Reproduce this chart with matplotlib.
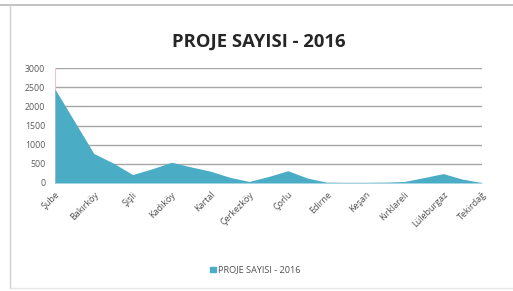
import matplotlib
matplotlib.use("Agg")
import matplotlib.pyplot as plt
from matplotlib.lines import Line2D
import numpy as np

title = "PROJE SAYISI - 2016"
series_name = "PROJE SAYISI - 2016"
tick_labels = ["Şube", "Bakırköy", "Şişli", "Kadıköy", "Kartal", "Çerkezköy",
               "Çorlu", "Edirne", "Keşan", "Kırklareli", "Lüleburgaz", "Tekirdağ"]
values = [2450, 1610, 770, 520, 220, 370, 540, 420, 310, 150, 40, 170,
          320, 130, 20, 15, 15, 20, 40, 140, 245, 100, 10]
yticks = [0, 500, 1000, 1500, 2000, 2500, 3000]

W, H = 513, 291
fig = plt.figure(figsize=(W / 100, H / 100), dpi=100)
fig.patch.set_facecolor("white")

ax = fig.add_axes([55 / W, 1 - 183 / H, (482 - 55) / W, (183 - 68) / H])
x = np.arange(len(values))
ax.fill_between(x, values, 0, color="#4bacc6", lw=0, zorder=3)
ax.set_xlim(0, len(values) - 1)
ax.set_ylim(0, 3000)
ax.set_yticks(yticks)
ax.set_yticklabels([str(v) for v in yticks], fontsize=6.3, color="#595959",
                   family="Open Sans")
ax.set_xticks(x[::2])
ax.set_xticklabels(tick_labels, rotation=45, ha="right", rotation_mode="anchor",
                   fontsize=6.5, color="#505050", family="Open Sans")
ax.tick_params(axis="x", length=0, pad=5)
ax.tick_params(axis="y", length=0, pad=7)
ax.grid(axis="y", color="#a6a6a6", lw=1.0, zorder=1)
for s in ["top", "right", "bottom"]:
    ax.spines[s].set_visible(False)
ax.spines["left"].set_color("#e8c8c8")
ax.spines["left"].set_linewidth(0.8)

fig.text(259 / W, 1 - 42 / H, title, ha="center", va="center",
         fontsize=13.3, fontweight="bold", color="#262626", family="Open Sans")

# legend
fig.patches.append(plt.Rectangle((210 / W, 1 - 272 / H), 5.5 / W, 5.5 / H,
                                 transform=fig.transFigure, color="#4bacc6"))
fig.text(218 / W, 1 - 269.5 / H, series_name, ha="left", va="center",
         fontsize=6.6, color="#505050", family="Open Sans")

# chart frame
fig.add_artist(Line2D([0, 1], [1 - 5 / H, 1 - 5 / H], transform=fig.transFigure,
                      color="#b8b8b8", lw=1.2))
fig.add_artist(Line2D([10 / W, 10 / W], [1 - 5 / H, 1 - 288 / H],
                      transform=fig.transFigure, color="#d0d0d0", lw=1.0))
fig.add_artist(Line2D([10 / W, 1], [1 - 288 / H, 1 - 288 / H],
                      transform=fig.transFigure, color="#e6e6e6", lw=1.0))

fig.savefig("out.png", dpi=100, facecolor="white")
